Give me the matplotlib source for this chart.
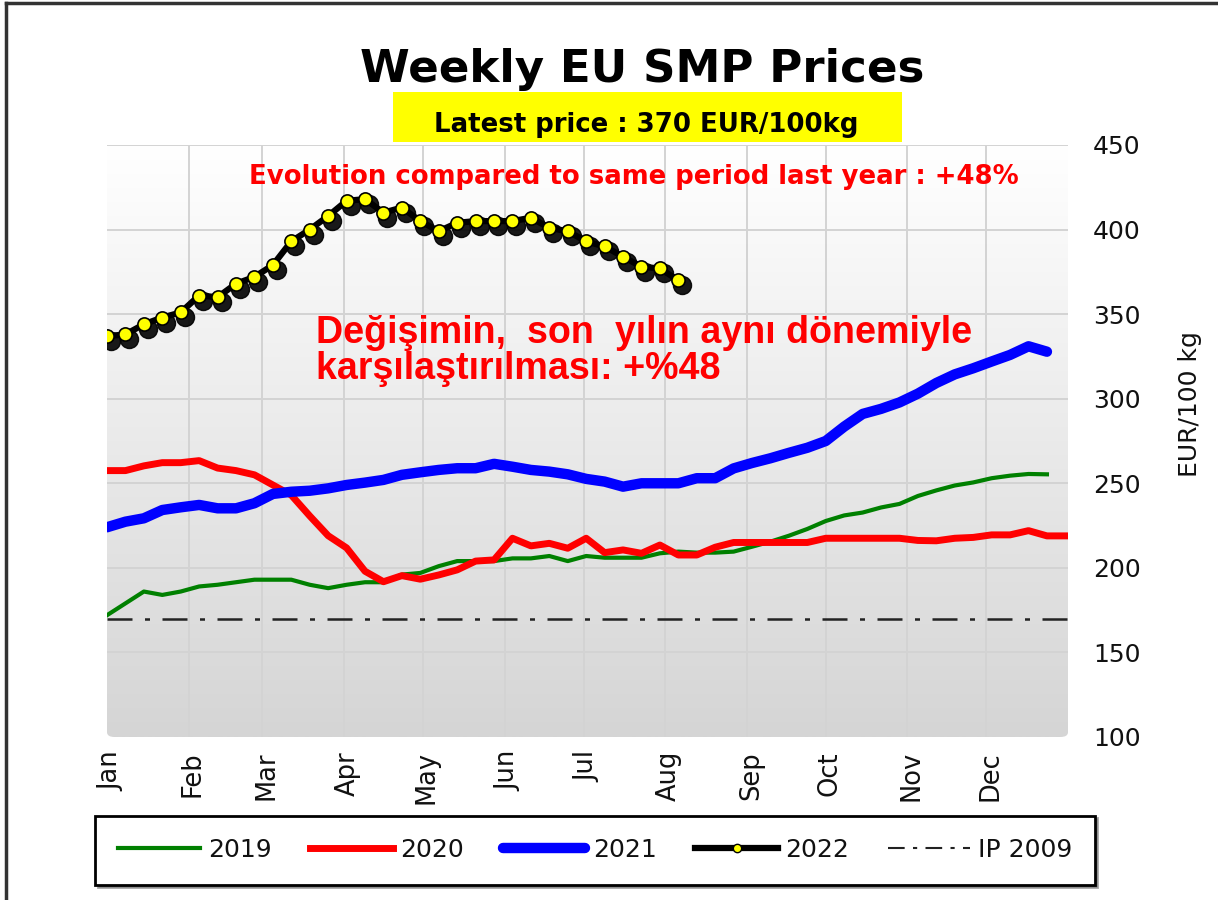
import numpy as np
import matplotlib
matplotlib.use("Agg")
import matplotlib.pyplot as plt
from matplotlib.lines import Line2D
from matplotlib.patches import Rectangle, FancyBboxPatch
from matplotlib.transforms import offset_copy

# weekly prices, EUR/100 kg
smp_2019 = [172, 179, 186, 184, 186, 189, 190, 191.5, 193, 193, 193, 190, 188, 190,
            191.5, 191.5, 196, 197, 201, 204, 204, 204, 205.6, 205.6, 207, 204, 207,
            206, 206, 206, 208.6, 209.6, 209, 209, 209.6, 212.5, 215.5, 219, 223,
            227.7, 231, 232.7, 235.7, 237.8, 242.5, 245.8, 248.7, 250.5, 253, 254.5,
            255.5, 255.3]
smp_2020 = [257.5, 257.5, 260.3, 262.2, 262.2, 263.4, 259, 257.5, 255, 249, 243,
            230.7, 219, 211.8, 198, 191.8, 195.4, 193.3, 195.8, 198.8, 204, 204.7,
            217.5, 213, 214.5, 211.6, 217.5, 209, 210.6, 208.6, 213.5, 207.6, 207.6,
            212.2, 215, 215, 215, 215, 215, 217.5, 217.5, 217.5, 217.5, 217.5, 216.2,
            216, 217.5, 218, 219.5, 219.5, 222, 218.9, 218.9]
smp_2021 = [224, 227.3, 229.3, 234.2, 235.8, 237.2, 235.2, 235.2, 238.2, 243.7, 245,
            245.6, 247, 249, 250.4, 252, 255, 256.5, 257.9, 258.9, 258.9, 261.5, 259.8,
            257.9, 256.9, 255.3, 252.6, 251, 248, 250, 250, 250, 253, 253, 258.8, 262,
            264.8, 268, 271, 275, 283.5, 291, 294, 297.8, 303, 309.3, 314.4, 318, 322,
            325.9, 331, 327.8]
smp_2022 = [337, 338, 344, 348, 351, 361, 360, 368, 372, 379, 393, 400, 408, 417, 418,
            410, 413, 405, 399, 404, 405, 405, 405, 407, 401, 399, 393, 390, 384, 378,
            377, 370]
ip_2009 = 169.8

months = ["Jan", "Feb", "Mar", "Apr", "May", "Jun", "Jul", "Aug", "Sep", "Oct", "Nov", "Dec"]
month_start_day = [0, 31, 59, 90, 120, 151, 181, 212, 243, 273, 304, 334]
y_ticks = [100, 150, 200, 250, 300, 350, 400, 450]

title = "Weekly EU SMP Prices"
latest = "Latest price : 370 EUR/100kg"
evolution = "Evolution compared to same period last year : +48%"
turkish_1 = "Değişimin,  son  yılın aynı dönemiyle"
turkish_2 = "karşılaştırılması: +%48"


def days(values):
    return np.arange(len(values)) * 7


W, H = 1218, 900
fig = plt.figure(figsize=(W / 100, H / 100), dpi=100)
fig.patch.set_facecolor("white")

ax = fig.add_axes([107 / W, 1 - 737 / H, (1068 - 107) / W, (737 - 145) / H])
ax.set_xlim(0, 365)
ax.set_ylim(100, 450)
ax.set_facecolor("none")
for s in ax.spines.values():
    s.set_visible(False)

# gradient background with rounded corners
grad = np.linspace(0, 1, 256).reshape(-1, 1)
bg = ax.imshow(grad, extent=[0, 365, 100, 450], aspect="auto", origin="upper",
               cmap=matplotlib.colors.LinearSegmentedColormap.from_list(
                   "bg", ["#ffffff", "#d5d5d5"]), zorder=0)
clip = FancyBboxPatch((0, 0), 1, 1, boxstyle="round,pad=0,rounding_size=0.008",
                      transform=ax.transAxes, facecolor="none", edgecolor="none")
ax.add_patch(clip)
bg.set_clip_path(clip)

# grid
for d in month_start_day[1:]:
    ax.axvline(d, color="#d3d3d3", lw=1.4, zorder=1)
for v in y_ticks[1:]:
    ax.axhline(v, color="#d3d3d3", lw=1.4, zorder=1)

# series
ax.axhline(ip_2009, color="#222222", lw=1.8, ls=(0, (10, 5, 2, 5)), zorder=2)
ax.plot(days(smp_2019), smp_2019, color="#008000", lw=3.0, zorder=3)
ax.plot(days(smp_2020), smp_2020, color="#ff0000", lw=5.0, zorder=3,
        solid_joinstyle="round")
ax.plot(days(smp_2021), smp_2021, color="#0000ff", lw=7.5, zorder=4,
        solid_joinstyle="round", solid_capstyle="round")
ax.plot(days(smp_2022), smp_2022, color="black", lw=4.5, zorder=5)
shadow = offset_copy(ax.transData, fig=fig, x=4, y=-5, units="dots")
ax.plot(days(smp_2022), smp_2022, ls="none", marker="o", ms=13, color="black",
        alpha=0.9, transform=shadow, zorder=5)
ax.plot(days(smp_2022), smp_2022, ls="none", marker="o", ms=9.5, mfc="#ffff00",
        mec="black", mew=1.2, zorder=6)

# axes ticks
ax.yaxis.tick_right()
ax.set_yticks(y_ticks)
ax.tick_params(axis="y", length=0, pad=18, labelsize=18, labelcolor="#111111")
ax.set_xticks(month_start_day)
ax.set_xticklabels(months, rotation=90, va="top", ha="center")
ax.tick_params(axis="x", length=0, pad=10, labelsize=18.5, labelcolor="#111111")
for lbl in ax.get_xticklabels():
    lbl.set_transform(lbl.get_transform() + matplotlib.transforms.ScaledTranslation(
        4 / 100, 0, fig.dpi_scale_trans))

fig.text(1190 / W, 1 - 404 / H, "EUR/100 kg", rotation=90, ha="center", va="center",
         fontsize=18, color="#111111")

# titles
fig.text(642 / W, 1 - 82 / H, title, ha="center", va="baseline", fontsize=32.5,
         fontweight="bold")
fig.patches.append(Rectangle((393 / W, 1 - 142 / H), (902 - 393) / W, 50 / H,
                             transform=fig.transFigure, facecolor="#ffff00",
                             edgecolor="none", zorder=0))
fig.text(646 / W, 1 - 132 / H, latest, ha="center", va="baseline", fontsize=18.7,
         fontweight="bold")
fig.text(634 / W, 1 - 184 / H, evolution, ha="center", va="baseline", fontsize=18.7,
         fontweight="bold", color="#ff0000")
fig.text(316 / W, 1 - 343 / H, turkish_1, ha="left", va="baseline", fontsize=27.1,
         fontweight="bold", color="#ff0000", family="Liberation Sans")
fig.text(316 / W, 1 - 379 / H, turkish_2, ha="left", va="baseline", fontsize=27.1,
         fontweight="bold", color="#ff0000", family="Liberation Sans")

# outer frame (left and top edges)
fig.lines.append(Line2D([6 / W, 6 / W], [0, 1 - 3 / H], transform=fig.transFigure,
                        color="#333333", lw=2.5))
fig.lines.append(Line2D([6 / W, 1], [1 - 3 / H, 1 - 3 / H], transform=fig.transFigure,
                        color="#333333", lw=2.5))

# legend
handles = [
    Line2D([], [], color="#008000", lw=3.0),
    Line2D([], [], color="#ff0000", lw=5.0),
    Line2D([], [], color="#0000ff", lw=7.5, solid_capstyle="round"),
    Line2D([], [], color="black", lw=4.5, marker="o", ms=6, mfc="#ffff00", mec="black"),
    Line2D([], [], color="#222222", lw=1.5, ls=(0, (8, 4, 2, 4))),
]
labels = ["2019", "2020", "2021", "2022", "IP 2009"]
leg = fig.legend(handles, labels, loc="center", bbox_to_anchor=(595 / W, 1 - 850 / H),
                 ncol=5, fontsize=18, handlelength=3.3, handletextpad=0.3,
                 columnspacing=1.55, borderpad=0.9, numpoints=1, frameon=True,
                 fancybox=False, shadow=True, edgecolor="black")
leg.get_frame().set_linewidth(2)
for t in leg.get_texts():
    t.set_color("#111111")

fig.savefig("out.png", dpi=100)
